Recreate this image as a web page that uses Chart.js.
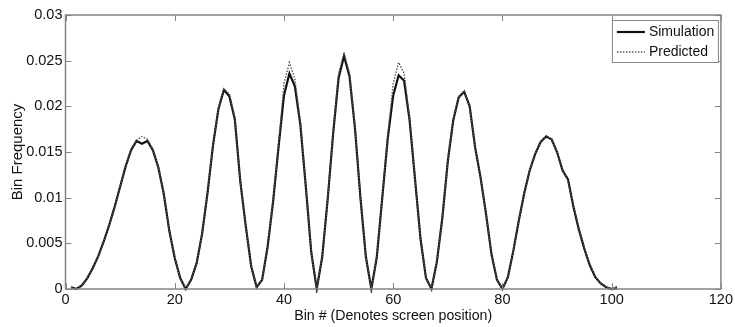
<!DOCTYPE html>
<html><head><meta charset="utf-8">
<script src="https://cdn.jsdelivr.net/npm/chart.js"></script>
<style>html,body{margin:0;padding:0;background:#fff}#wrap{width:735px;height:327px}</style>
</head><body><div id="wrap"><canvas id="c" width="735" height="327"></canvas></div>
<script>
const bins = [1,2,3,4,5,6,7,8,9,10,11,12,13,14,15,16,17,18,19,20,21,22,23,24,25,26,27,28,29,30,31,32,33,34,35,36,37,38,39,40,41,42,43,44,45,46,47,48,49,50,51,52,53,54,55,56,57,58,59,60,61,62,63,64,65,66,67,68,69,70,71,72,73,74,75,76,77,78,79,80,81,82,83,84,85,86,87,88,89,90,91,92,93,94,95,96,97,98,99,100,101];
const simulation = [0.0002,0.0000,0.0004,0.0012,0.0023,0.0036,0.0052,0.0070,0.0090,0.0112,0.0134,0.0152,0.0162,0.0159,0.0162,0.0152,0.0133,0.0104,0.0064,0.0034,0.0012,0.0000,0.0010,0.0028,0.0060,0.0105,0.0157,0.0197,0.0218,0.0211,0.0186,0.0118,0.0069,0.0025,0.0002,0.0010,0.0046,0.0095,0.0155,0.0212,0.0236,0.0222,0.0180,0.0112,0.0040,0.0000,0.0035,0.0098,0.0170,0.0231,0.0255,0.0233,0.0176,0.0100,0.0035,0.0000,0.0035,0.0100,0.0165,0.0212,0.0234,0.0228,0.0185,0.0120,0.0055,0.0012,0.0000,0.0030,0.0078,0.0140,0.0185,0.0210,0.0216,0.0200,0.0155,0.0122,0.0082,0.0038,0.0010,0.0000,0.0013,0.0042,0.0075,0.0105,0.0130,0.0148,0.0161,0.0167,0.0164,0.0150,0.0130,0.0120,0.0090,0.0065,0.0044,0.0026,0.0013,0.0006,0.0002,0.0000,0.0001];
const predicted = [0.0002,0.0000,0.0004,0.0012,0.0023,0.0036,0.0052,0.0070,0.0090,0.0112,0.0134,0.0153,0.0163,0.0167,0.0164,0.0153,0.0133,0.0104,0.0064,0.0034,0.0012,0.0000,0.0010,0.0028,0.0060,0.0105,0.0157,0.0198,0.0219,0.0214,0.0187,0.0118,0.0069,0.0025,0.0002,0.0010,0.0046,0.0096,0.0158,0.0225,0.0248,0.0230,0.0182,0.0112,0.0040,0.0000,0.0035,0.0098,0.0172,0.0236,0.0259,0.0236,0.0177,0.0100,0.0035,0.0000,0.0035,0.0101,0.0168,0.0225,0.0248,0.0236,0.0187,0.0120,0.0055,0.0012,0.0000,0.0030,0.0078,0.0141,0.0186,0.0211,0.0217,0.0200,0.0155,0.0122,0.0082,0.0038,0.0010,0.0000,0.0013,0.0042,0.0075,0.0105,0.0130,0.0148,0.0161,0.0168,0.0164,0.0150,0.0131,0.0118,0.0092,0.0066,0.0045,0.0027,0.0013,0.0006,0.0002,0.0000,0.0003];
const xTicks = [0,20,40,60,80,100,120];
const yTicks = [0,0.005,0.01,0.015,0.02,0.025,0.03];
const yTickLabels = ['0','0.005','0.01','0.015','0.02','0.025','0.03'];
const seriesNames = ['Simulation','Predicted'];
const xTitle = 'Bin # (Denotes screen position)';
const yTitle = 'Bin Frequency';

const FONT = "'Liberation Sans', Arial, sans-serif";
const FRAME = '#858585';
const TICKLEN = 6;

const framePlugin = {
  id: 'frame',
  afterDraw(chart) {
    const ctx = chart.ctx, a = chart.chartArea;
    const xs = chart.scales.x, ys = chart.scales.y;
    ctx.save();
    ctx.strokeStyle = FRAME;
    ctx.lineWidth = 1.5;
    ctx.strokeRect(a.left, a.top, a.right - a.left, a.bottom - a.top);
    ctx.lineWidth = 1;
    ctx.beginPath();
    xTicks.forEach(v => {
      const px = Math.round(xs.getPixelForValue(v)) + 0.5;
      ctx.moveTo(px, a.bottom); ctx.lineTo(px, a.bottom - TICKLEN);
      ctx.moveTo(px, a.top); ctx.lineTo(px, a.top + TICKLEN);
    });
    yTicks.forEach(v => {
      const py = Math.round(ys.getPixelForValue(v)) + 0.5;
      ctx.moveTo(a.left, py); ctx.lineTo(a.left + TICKLEN, py);
      ctx.moveTo(a.right, py); ctx.lineTo(a.right - TICKLEN, py);
    });
    ctx.stroke();

    // legend
    const bx = a.right - 109, by = a.top + 5, bw = 106, bh = 42;
    ctx.fillStyle = '#fff';
    ctx.fillRect(bx, by, bw, bh);
    ctx.strokeStyle = FRAME;
    ctx.lineWidth = 1;
    ctx.strokeRect(bx + 0.5, by + 0.5, bw, bh);
    const ds = chart.data.datasets;
    [0, 1].forEach(i => {
      const y = by + 12 + i * 20;
      ctx.beginPath();
      ctx.strokeStyle = ds[i].borderColor;
      ctx.lineWidth = ds[i].borderWidth;
      ctx.setLineDash(ds[i].borderDash || []);
      ctx.moveTo(bx + 5, y); ctx.lineTo(bx + 33, y);
      ctx.stroke();
      ctx.setLineDash([]);
      ctx.fillStyle = '#111';
      ctx.font = '14px ' + FONT;
      ctx.textBaseline = 'middle';
      ctx.textAlign = 'left';
      ctx.fillText(seriesNames[i], bx + 37, y);
    });
    ctx.restore();
  }
};

new Chart(document.getElementById('c'), {
  type: 'line',
  data: {
    datasets: [
      {
        label: seriesNames[0],
        data: bins.map((b, i) => ({x: b, y: simulation[i]})),
        borderColor: '#111',
        borderWidth: 2.2,
        pointRadius: 0,
        tension: 0,
        order: 1,
        clip: 4
      },
      {
        label: seriesNames[1],
        data: bins.map((b, i) => ({x: b, y: predicted[i]})),
        borderColor: '#555',
        borderWidth: 1.4,
        borderDash: [1.5, 1.5],
        pointRadius: 0,
        tension: 0,
        order: 0,
        clip: 4
      }
    ]
  },
  options: {
    responsive: false,
    animation: false,
    devicePixelRatio: 1,
    layout: {padding: {top: 15, right: 11, left: 0, bottom: 0}},
    plugins: {legend: {display: false}, tooltip: {enabled: false}},
    scales: {
      x: {
        type: 'linear', min: 0, max: 120,
        afterBuildTicks: s => { s.ticks = xTicks.map(v => ({value: v})); },
        afterFit: s => { s.height = 38; },
        grid: {display: false, drawTicks: false},
        border: {display: false},
        ticks: {font: {family: FONT, size: 14.5}, color: '#111', padding: 2, maxRotation: 0, autoSkip: false},
        title: {display: true, text: xTitle, font: {family: FONT, size: 14.2}, color: '#111', padding: {top: 2, bottom: 2}}
      },
      y: {
        min: 0, max: 0.03,
        afterBuildTicks: s => { s.ticks = yTicks.map(v => ({value: v})); },
        afterFit: s => { s.width = 65.5; },
        grid: {display: false, drawTicks: false},
        border: {display: false},
        ticks: {font: {family: FONT, size: 14.5}, color: '#111', padding: 3, autoSkip: false,
          callback: (v, i) => yTickLabels[i]},
        title: {display: true, text: yTitle, font: {family: FONT, size: 15}, color: '#111', padding: {top: 9, bottom: 9}}
      }
    }
  },
  plugins: [framePlugin]
});
</script>
</body></html>
